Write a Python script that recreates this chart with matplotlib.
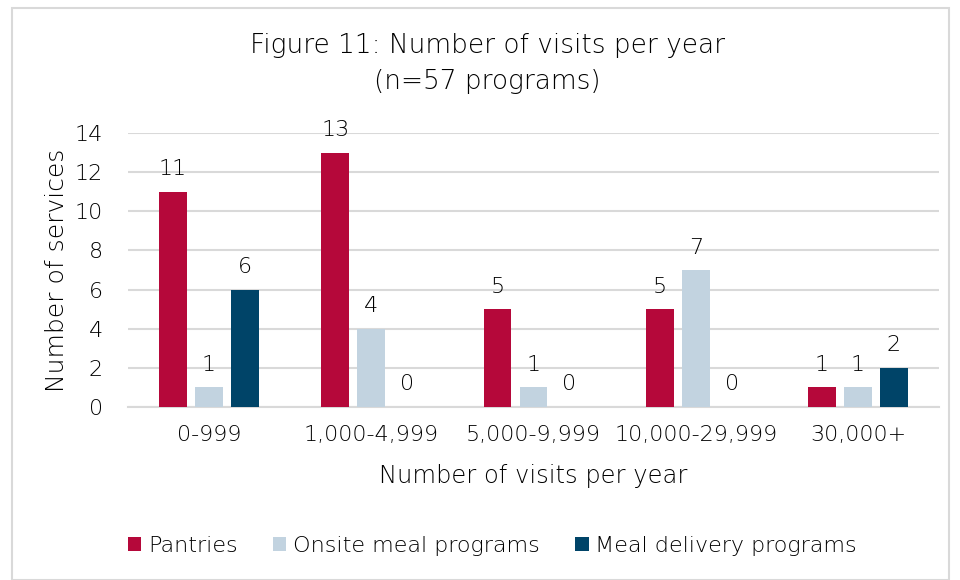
import matplotlib
matplotlib.use("Agg")
import matplotlib.pyplot as plt
import numpy as np
from matplotlib.patches import Rectangle

categories = ["0-999", "1,000-4,999", "5,000-9,999", "10,000-29,999", "30,000+"]
series_names = ["Pantries", "Onsite meal programs", "Meal delivery programs"]
pantries = [11, 13, 5, 5, 1]
onsite = [1, 4, 1, 7, 1]
delivery = [6, 0, 0, 0, 2]
colors = ["#B5083A", "#C2D3E0", "#004468"]
yticks = [0, 2, 4, 6, 8, 10, 12, 14]

plt.rcParams['font.family'] = ['DejaVu Sans']
plt.rcParams['font.weight'] = 'light'
plt.rcParams['axes.labelweight'] = 'light'
TXT = "#000000"

fig = plt.figure(figsize=(9.6, 5.8), dpi=100)
fig.patches.append(Rectangle((12/960, 0.0), (949-12)/960, 1 - 8/580, transform=fig.transFigure,
                             fill=False, edgecolor="#D9D9D9", linewidth=1.5, zorder=0))

ax = fig.add_axes([128/960, 1 - 407/580, (939-128)/960, (407-133)/580])
x = np.arange(len(categories))
width = 0.172
offset = 0.222
for i, (vals, name, c) in enumerate(zip([pantries, onsite, delivery], series_names, colors)):
    pos = x + (i - 1) * offset
    ax.bar(pos, vals, width=width, color=c, label=name, zorder=3)
    for p, v in zip(pos, vals):
        ax.annotate(str(v), (p, v), xytext=(0, 9), textcoords="offset points",
                    ha="center", va="bottom", fontsize=16, color=TXT)

ax.set_xlim(-0.5, len(categories) - 0.5)
ax.set_ylim(0, 14)
ax.set_yticks(yticks)
ax.set_xticks(x)
ax.set_xticklabels(categories)
ax.yaxis.grid(True, color="#D9D9D9", linewidth=1.5, zorder=0)
ax.set_axisbelow(True)
for s in ["top", "right", "left"]:
    ax.spines[s].set_visible(False)
ax.spines["bottom"].set_color("#D9D9D9")
ax.spines["bottom"].set_linewidth(1.5)
ax.tick_params(axis="x", length=0, labelsize=16, colors=TXT, pad=13)
ax.tick_params(axis="y", length=0, labelsize=16, colors=TXT, pad=18)
ax.set_xlabel("Number of visits per year", fontsize=17.5, color=TXT, labelpad=14)
ax.set_ylabel("Number of services", fontsize=18, color=TXT, labelpad=4)

fig.text(0.508, 1 - 45/580, "Figure 11: Number of visits per year", ha="center", va="center",
         fontsize=19, color=TXT)
fig.text(0.508, 1 - 82/580, "(n=57 programs)", ha="center", va="center",
         fontsize=19, color=TXT)

leg = fig.legend(loc="center", bbox_to_anchor=(0.513, 1 - 546/580), ncol=3, frameon=False,
                 fontsize=16, handlelength=0.6, handleheight=0.6, handletextpad=0.3,
                 columnspacing=1.6)
for t in leg.get_texts():
    t.set_color(TXT)

fig.savefig("out.png", dpi=100)
